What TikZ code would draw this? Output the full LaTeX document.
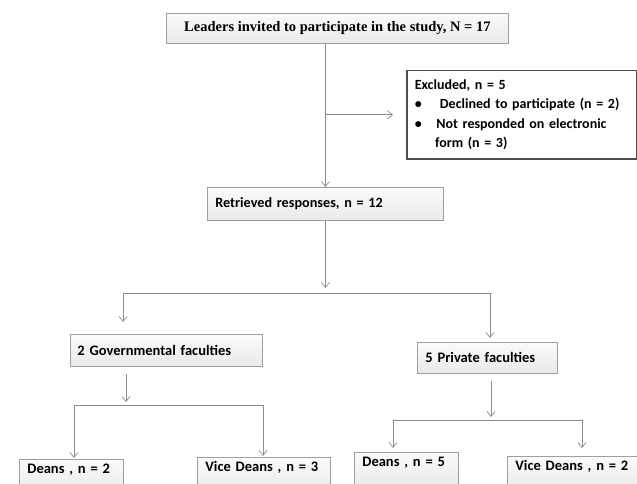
\documentclass[tikz,border=0pt]{standalone}
\usepackage{fontspec}
\setmainfont{Carlito}
\newfontfamily\timesbox{Liberation Serif}
\usetikzlibrary{arrows.meta,positioning}

\begin{document}
\begin{tikzpicture}[x=1pt,y=-1pt,
  box/.style={draw=gray!75, line width=0.8pt, top color=gray!3, bottom color=gray!17,
    anchor=north west, inner xsep=8pt, align=left,
    font=\bfseries\fontsize{14.5}{16}\selectfont},
  lowbox/.style={box, text height=11pt, text depth=18pt, inner ysep=3pt},
  line/.style={draw=gray!90, line width=0.7pt},
  arr/.style={line, -{Straight Barb[length=5pt,width=8pt]}}]
  \useasboundingbox (0,0) rectangle (637,484);
  \clip (0,0) rectangle (637,484);

  % Top boxes
  \node[box, minimum width=342pt, minimum height=30pt,
    font=\timesbox\bfseries\fontsize{14.5}{16}\selectfont] (lead) at (166,13)
    {Leaders invited to participate in the study, N = 17};
  \node[box, draw=gray!60!black, line width=1.5pt, fill=white, top color=white, bottom color=white,
    text width=214pt, minimum height=88pt, font=\bfseries\fontsize{14}{19.5}\selectfont] (excl) at (406,70)
    {Excluded, n = 5\\
     \textbullet\hspace{1.3em}Declined to participate (n = 2)\\
     \textbullet\hspace{1.05em}Not responded on electronic\\
     \hspace{1.45em}form (n = 3)};
  \node[box, text width=220pt, minimum height=33pt, font=\bfseries\fontsize{14.2}{16}\selectfont] (ret) at (207,187)
    {Retrieved responses, n = 12};

  % Faculties
  \node[box, text width=178pt, minimum height=32pt, inner xsep=7pt] (gov) at (70,334) {2 Governmental faculties};
  \node[box, text width=124pt, minimum height=31pt] (priv) at (417,342) {5 Private faculties};

  % Deans
  \node[lowbox, text width=88pt] (govdean) at (19,459) {Deans , n = 2};
  \node[lowbox, text width=117pt] (govvice) at (197,457) {Vice Deans , n = 3};
  \node[lowbox, text width=88pt] (privdean) at (354,452) {Deans , n = 5};
  \node[lowbox, text width=114pt] (privvice) at (507,456) {Vice Deans , n = 2};

  % Main flow
  \draw[arr] (ret.north |- lead.south) -- (ret.north);
  \coordinate (exclfrom) at (ret.north |- excl.west);
  \draw[arr, shorten >=13pt] (exclfrom) -- (excl.west);
  \coordinate (splitL) at (123,293);
  \coordinate (splitR) at (490,293);
  \draw[arr, shorten >=5pt] (ret.south) -- (ret.south |- splitL);
  \draw[line] (splitL) -- ++(369,0);
  \draw[arr, shorten >=12pt] (splitL) -- (splitL |- gov.north);
  \draw[arr, shorten >=4pt] (splitR) -- (splitR |- priv.north);

  % Governmental branch
  \coordinate (govL) at (74,405);
  \coordinate (govR) at (263,405);
  \draw[arr, shorten <=7pt, shorten >=3pt] (126,0 |- gov.south) -- (126,0 |- govL);
  \draw[line] (govL) -- (govR);
  \foreach \c/\n in {govL/govdean, govR/govvice}
    \draw[arr, shorten >=1pt] (\c) -- (\c |- \n.north);

  % Private branch
  \coordinate (privL) at (393,420);
  \coordinate (privR) at (582,420);
  \draw[arr, shorten <=7pt, shorten >=3pt] (491,0 |- priv.south) -- (491,0 |- privL);
  \draw[line] (privL) -- (privR);
  \draw[arr, shorten >=4pt] (privL) -- (privL |- privdean.north);
  \draw[arr, shorten >=8pt] (privR) -- (privR |- privvice.north);
\end{tikzpicture}
\end{document}
